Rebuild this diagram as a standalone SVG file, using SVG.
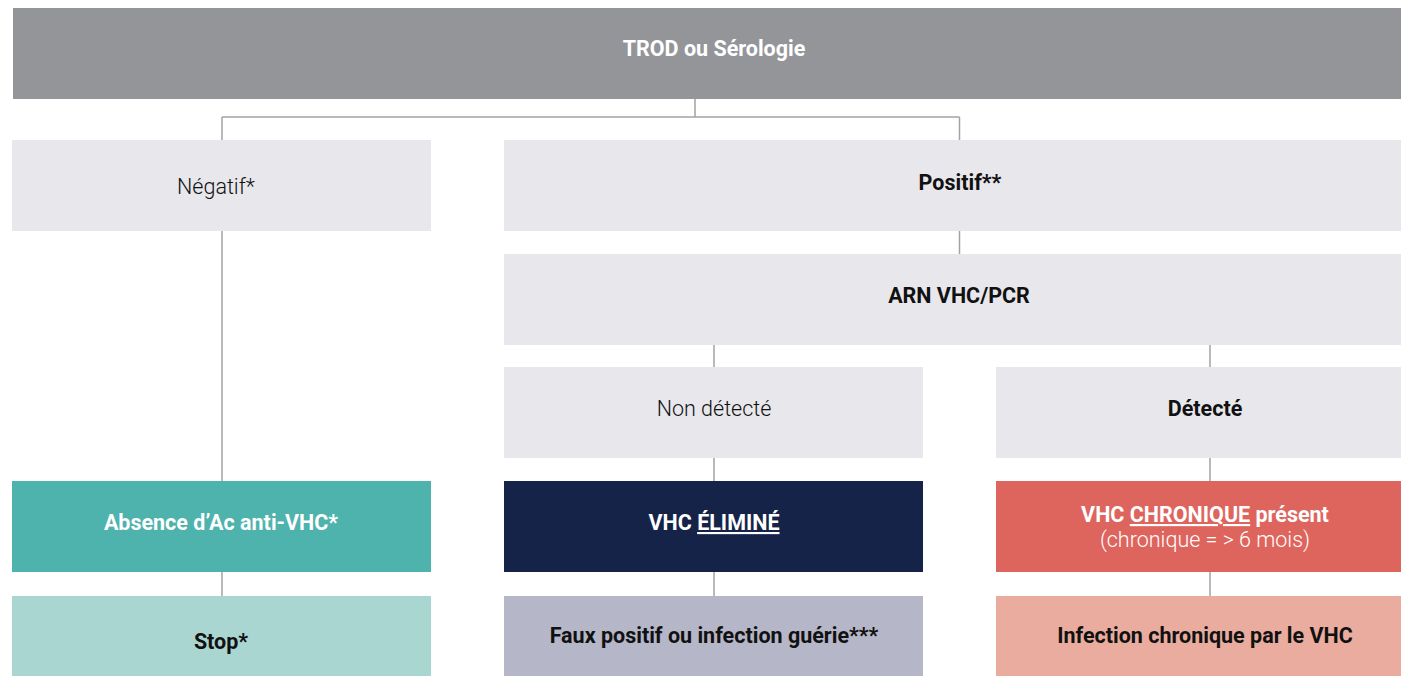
<svg xmlns="http://www.w3.org/2000/svg" width="1401" height="676" viewBox="0 0 1401 676">
<style>
text{font-family:Roboto,"Liberation Sans",Arial,sans-serif;font-size:21.5px;text-anchor:middle}
.b{font-weight:700}
.l{font-weight:300}
.w{fill:#ffffff}
.k{fill:#111111}
.g{fill:#e8e7ec}
.con{stroke:#a3a3a3;stroke-width:1.5;fill:none}
.u{text-decoration:underline}
</style>
<rect width="1401" height="676" fill="#ffffff"/>
<g id="connectors">
<path class="con" d="M695 99V117M222 117H959.5M222 117V481M222 572V596M959.5 117V254M959.5 231V254M714 345V481M714 572V596M1210 345V481M1210 572V596"/>
</g>
<g id="n-trod"><rect x="13" y="8" width="1388" height="91" fill="#949599"/><text x="714" y="56" class="b w">TROD ou Sérologie</text></g>
<g id="n-negatif"><rect x="12" y="140" width="419" height="91" class="g"/><text x="216" y="194" class="l k">Négatif*</text></g>
<g id="n-positif"><rect x="504" y="140" width="897" height="91" class="g"/><text x="960" y="190" class="b k">Positif**</text></g>
<g id="n-arn"><rect x="504" y="254" width="897" height="91" class="g"/><text x="959" y="303" class="b k">ARN VHC/PCR</text></g>
<g id="n-nondetecte"><rect x="504" y="367" width="419" height="91" class="g"/><text x="714" y="416" class="l k">Non détecté</text></g>
<g id="n-detecte"><rect x="996" y="367" width="405" height="91" class="g"/><text x="1205" y="416" class="b k">Détecté</text></g>
<g id="n-absence"><rect x="12" y="481" width="419" height="91" fill="#4db3ac"/><text x="221" y="530" class="b w">Absence d’Ac anti-VHC*</text></g>
<g id="n-elimine"><rect x="504" y="481" width="419" height="91" fill="#152348"/><text x="714" y="530" class="b w">VHC <tspan class="u">ÉLIMINÉ</tspan></text></g>
<g id="n-chronique"><rect x="996" y="481" width="405" height="91" fill="#de655e"/><text x="1205" y="522" class="b w">VHC <tspan class="u">CHRONIQUE</tspan> présent</text><text x="1205" y="547" class="l w">(chronique = &gt; 6 mois)</text></g>
<g id="n-stop"><rect x="12" y="596" width="419" height="80" fill="#a9d6d1"/><text x="221" y="649" class="b k">Stop*</text></g>
<g id="n-faux"><rect x="504" y="596" width="419" height="80" fill="#b5b6c8"/><text x="714" y="643" class="b k">Faux positif ou infection guérie***</text></g>
<g id="n-infection"><rect x="996" y="596" width="405" height="80" fill="#eaac9e"/><text x="1205" y="643" class="b k">Infection chronique par le VHC</text></g>
</svg>
